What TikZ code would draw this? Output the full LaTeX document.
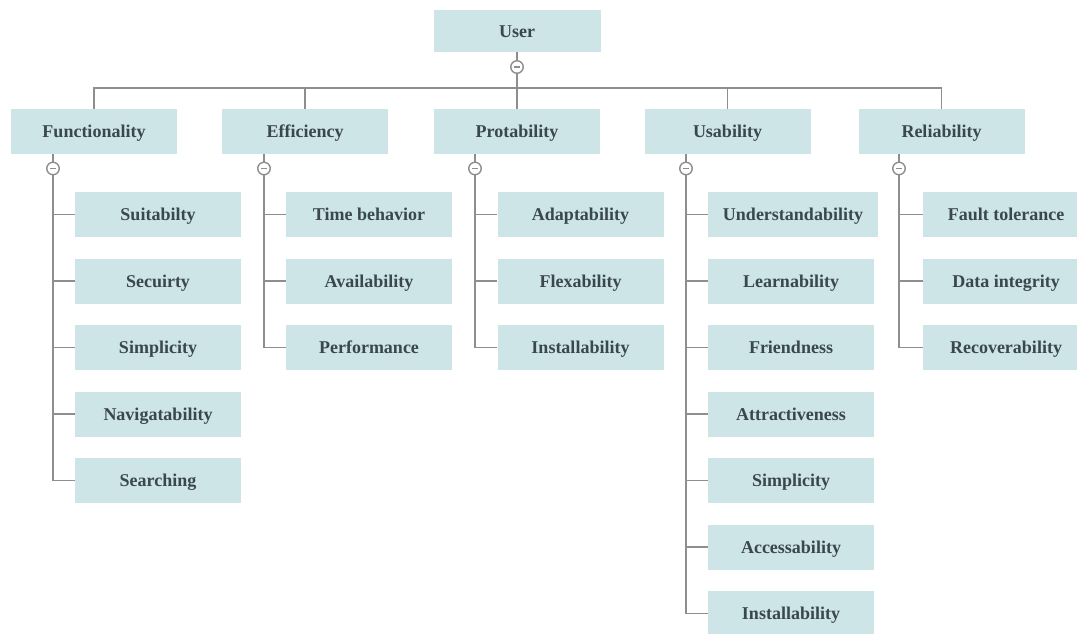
\documentclass[tikz,border=0pt]{standalone}
\usepackage{fontspec}
\setmainfont{Liberation Serif}
\definecolor{boxfill}{HTML}{CDE5E7}
\definecolor{txt}{HTML}{3A474E}
\definecolor{lin}{HTML}{8E8E8E}
\begin{document}
\begin{tikzpicture}[x=1pt,y=-1pt,
  box/.style={fill=boxfill,minimum width=166pt,minimum height=45pt,inner sep=0pt,
    text height=12pt,text depth=0pt,
    font=\fontsize{18}{20}\selectfont\bfseries,text=txt},
  conn/.style={draw=lin,line width=1.7pt},
  tog/.style={circle,draw=lin,line width=1.4pt,fill=white,minimum size=12.5pt,inner sep=0pt,
    path picture={\draw[lin,line width=1.4pt] ([xshift=-3pt]path picture bounding box.center) -- ([xshift=3pt]path picture bounding box.center);}}]
\useasboundingbox (0,0) rectangle (1077,633);
\clip (0,0) rectangle (1077,633);
% root
\node[box,minimum height=42pt,minimum width=167pt] (user) at (517,31) {User};
\node[tog] (uc) at (517,67) {};
\coordinate (bus) at (0,88);
% level 1
\node[box] (f) at (94,131.5) {Functionality};
\node[box] (e) at (305,131.5) {Efficiency};
\node[box] (p) at (517,131.5) {Protability};
\node[box] (u) at (727.5,131.5) {Usability};
\node[box] (r) at (941.5,131.5) {Reliability};
% toggles
\node[tog] (fc) at (53,168.5) {};
\node[tog] (ec) at (264,168.5) {};
\node[tog] (pc) at (475,168.5) {};
\node[tog] (ucc) at (686,168.5) {};
\node[tog] (rc) at (899,168.5) {};
% children
\node[box] (f1) at (158,214.5) {Suitabilty};
\node[box] (f2) at (158,281) {Secuirty};
\node[box] (f3) at (158,347.5) {Simplicity};
\node[box] (f4) at (158,414) {Navigatability};
\node[box] (f5) at (158,480.5) {Searching};
\node[box] (e1) at (369,214.5) {Time behavior};
\node[box] (e2) at (369,281) {Availability};
\node[box] (e3) at (369,347.5) {Performance};
\node[box] (p1) at (580.5,214.5) {Adaptability};
\node[box] (p2) at (580.5,281) {Flexability};
\node[box] (p3) at (580.5,347.5) {Installability};
\node[box,minimum width=170pt] (u1) at (793,214.5) {Understandability};
\node[box] (u2) at (791,281) {Learnability};
\node[box] (u3) at (791,347.5) {Friendness};
\node[box] (u4) at (791,414) {Attractiveness};
\node[box] (u5) at (791,480.5) {Simplicity};
\node[box] (u6) at (791,547) {Accessability};
\node[box] (u7) at (791,613.5) {Installability};
\node[box] (r1) at (1006,214.5) {Fault tolerance};
\node[box] (r2) at (1006,281) {Data integrity};
\node[box] (r3) at (1006,347.5) {Recoverability};
% root connectors
\draw[conn] (user.south) -- (uc.north);
\foreach \n in {f,e,p,u,r}{
  \draw[conn] (uc.south) -- (uc |- bus) -| (\n.north);
}
% box to toggle
\draw[conn] (fc |- f.south) -- (fc.north);
\draw[conn] (ec |- e.south) -- (ec.north);
\draw[conn] (pc |- p.south) -- (pc.north);
\draw[conn] (ucc |- u.south) -- (ucc.north);
\draw[conn] (rc |- r.south) -- (rc.north);
% toggle to children
\foreach \c in {f1,f2,f3,f4,f5}{\draw[conn] (fc.south) |- (\c.west);}
\foreach \c in {e1,e2,e3}{\draw[conn] (ec.south) |- (\c.west);}
\foreach \c in {p1,p2,p3}{\draw[conn] (pc.south) |- (\c.west);}
\foreach \c in {u1,u2,u3,u4,u5,u6,u7}{\draw[conn] (ucc.south) |- (\c.west);}
\foreach \c in {r1,r2,r3}{\draw[conn] (rc.south) |- (\c.west);}
\end{tikzpicture}
\end{document}
